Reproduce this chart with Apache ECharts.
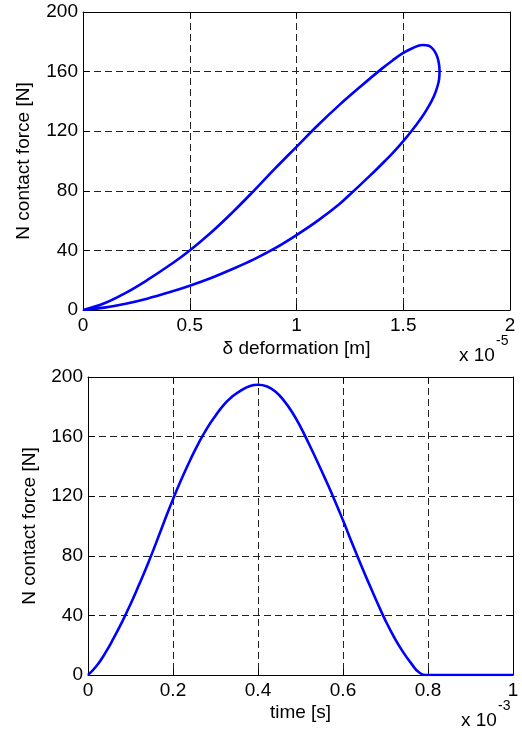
<!DOCTYPE html>
<html>
<head>
<meta charset="utf-8">
<script src="https://cdn.jsdelivr.net/npm/echarts@6/dist/echarts.min.js"></script>
<style>
html,body{margin:0;padding:0;background:#fff;}
#c{width:522px;height:731px;}
</style>
</head>
<body>
<div id="c"></div>
<script>
// ---- Plot 1: force vs deformation (deformation in units of 1e-5 m) ----
const defLoad   = [0, 0.1, 0.2, 0.3, 0.4, 0.5, 0.6, 0.7, 0.8, 0.9, 1.0, 1.1, 1.2, 1.3, 1.4, 1.45, 1.5, 1.54, 1.59, 1.62, 1.64, 1.655, 1.665];
const forceLoad = [0, 4.5, 11.5, 20, 29.5, 40, 52, 65.5, 80, 95, 109.5, 124, 137.5, 150, 162, 167.5, 172.5, 175.5, 177.9, 177.3, 175, 171.5, 167];
const defUnload   = [1.67, 1.668, 1.66, 1.648, 1.632, 1.612, 1.59, 1.565, 1.538, 1.51, 1.48, 1.448, 1.414, 1.379, 1.343, 1.306, 1.269, 1.2, 1.1, 1.0, 0.9, 0.8, 0.7, 0.6, 0.5, 0.4, 0.3, 0.2, 0.1, 0];
const forceUnload = [161, 155, 150, 145, 140, 135, 130, 125, 120, 115, 110, 105, 100, 95, 90, 85, 80, 71, 60, 50.3, 41.5, 34, 27.5, 21.5, 16.3, 11.7, 7.6, 4.2, 1.6, 0];

// ---- Plot 2: force vs time (time in units of 1e-3 s) ----
const timeVals  = [0, 0.02, 0.04, 0.06, 0.08, 0.10, 0.12, 0.14, 0.16, 0.18, 0.20, 0.22, 0.24, 0.26, 0.28, 0.30, 0.32, 0.34, 0.36, 0.38, 0.40, 0.42, 0.44, 0.46, 0.48, 0.50, 0.52, 0.54, 0.56, 0.58, 0.60, 0.62, 0.64, 0.66, 0.68, 0.70, 0.72, 0.74, 0.76, 0.78, 0.80, 0.90, 1.0];
const forceTime = [0, 6, 14.5, 24.5, 35.5, 47.5, 60.5, 74, 88.5, 103.5, 118, 131.5, 144, 155.5, 165.5, 174, 181.5, 187, 191, 193.8, 194.8, 193.8, 190.5, 184.5, 176.5, 166.5, 155, 143, 130.5, 117.5, 103.8, 89.5, 75.5, 62, 49, 36.5, 25.5, 16, 8, 1.5, 0, 0, 0];

// ---- Axis settings ----
const xTicks1 = [0, 0.5, 1, 1.5, 2];
const xTicks2 = [0, 0.2, 0.4, 0.6, 0.8, 1];
const yTicks  = [0, 40, 80, 120, 160, 200];
const xName1 = 'δ deformation [m]';
const xName2 = 'time [s]';
const yName  = 'N contact force [N]';
const xExp1 = '-5';
const xExp2 = '-3';

const FONT = '"Liberation Sans", Arial, sans-serif';
const FS = 19;

function pairs(xs, ys){ return xs.map((x,i)=>[x, ys[i]]); }
const loop1 = pairs(defLoad, forceLoad).concat(pairs(defUnload, forceUnload));
const line2 = pairs(timeVals, forceTime);

function fmt(v){ return String(Math.round(v*1000)/1000); }

function mainX(grid, ticks, name, gap){
  return {
    type:'value', gridIndex:grid, position:'bottom',
    min:ticks[0], max:ticks[ticks.length-1], interval:ticks[1]-ticks[0],
    name:name, nameLocation:'middle', nameGap:gap,
    nameTextStyle:{color:'#000', fontFamily:FONT, fontSize:FS},
    axisLine:{show:true, onZero:false, lineStyle:{color:'#000', width:1}},
    axisTick:{show:true, inside:true, length:6, lineStyle:{color:'#000'}},
    axisLabel:{show:true, color:'#000', fontFamily:FONT, fontSize:FS, margin:6, formatter:fmt, showMinLabel:true, showMaxLabel:true},
    splitLine:{show:true, lineStyle:{color:'#222', type:[7,4], width:1}}
  };
}
function topX(grid, ticks){
  return {
    type:'value', gridIndex:grid, position:'top',
    min:ticks[0], max:ticks[ticks.length-1], interval:ticks[1]-ticks[0],
    axisLine:{show:true, onZero:false, lineStyle:{color:'#000', width:1}},
    axisTick:{show:true, inside:true, length:6, lineStyle:{color:'#000'}},
    axisLabel:{show:false}, splitLine:{show:false}
  };
}
function mainY(grid, gap){
  return {
    type:'value', gridIndex:grid, position:'left',
    min:yTicks[0], max:yTicks[yTicks.length-1], interval:yTicks[1]-yTicks[0],
    name:yName, nameLocation:'middle', nameGap:gap, nameRotate:90,
    nameTextStyle:{color:'#000', fontFamily:FONT, fontSize:FS},
    axisLine:{show:true, onZero:false, lineStyle:{color:'#000', width:1}},
    axisTick:{show:true, inside:true, length:6, lineStyle:{color:'#000'}},
    axisLabel:{show:true, color:'#000', fontFamily:FONT, fontSize:FS, margin:5, showMinLabel:true, showMaxLabel:true},
    splitLine:{show:true, lineStyle:{color:'#222', type:[7,4], width:1}}
  };
}
function rightY(grid){
  return {
    type:'value', gridIndex:grid, position:'right',
    min:yTicks[0], max:yTicks[yTicks.length-1], interval:yTicks[1]-yTicks[0],
    axisLine:{show:true, onZero:false, lineStyle:{color:'#000', width:1}},
    axisTick:{show:true, inside:true, length:6, lineStyle:{color:'#000'}},
    axisLabel:{show:false}, splitLine:{show:false}
  };
}

const chart = echarts.init(document.getElementById('c'), null, {renderer:'canvas'});
chart.setOption({
  animation:false,
  backgroundColor:'#fff',
  grid:[
    {left:83, top:12, width:427, height:298},
    {left:88, top:377, width:425, height:298}
  ],
  xAxis:[ mainX(0, xTicks1, xName1, 29), topX(0, xTicks1), mainX(1, xTicks2, xName2, 28), topX(1, xTicks2) ],
  yAxis:[ mainY(0, 50), rightY(0), mainY(1, 49), rightY(1) ],
  series:[
    {type:'line', xAxisIndex:0, yAxisIndex:0, data:loop1, showSymbol:false, smooth:0.4,
     lineStyle:{color:'#0000ff', width:2.6}},
    {type:'line', xAxisIndex:2, yAxisIndex:2, data:line2, showSymbol:false, smooth:0.5,
     lineStyle:{color:'#0000ff', width:2.6}}
  ],
  graphic:[
    {type:'text', left:459, top:346, style:{text:'x 10', fill:'#000', font:FS+'px '+FONT}},
    {type:'text', left:496, top:334, style:{text:xExp1, fill:'#000', font:'14px '+FONT}},
    {type:'text', left:461, top:711, style:{text:'x 10', fill:'#000', font:FS+'px '+FONT}},
    {type:'text', left:498, top:699, style:{text:xExp2, fill:'#000', font:'14px '+FONT}}
  ]
});
</script>
</body>
</html>
